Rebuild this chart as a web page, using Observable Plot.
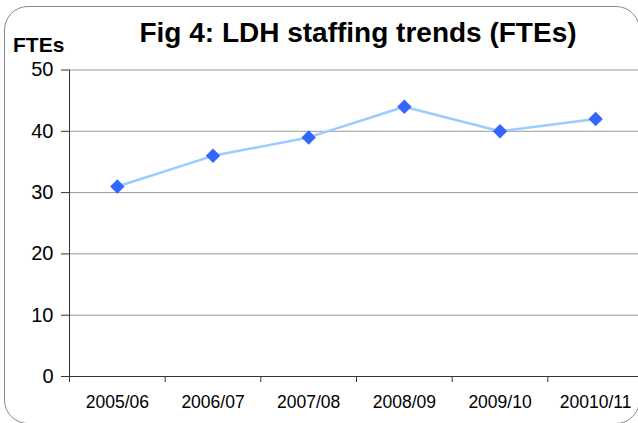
<!DOCTYPE html>
<html>
<head>
<meta charset="utf-8">
<script src="https://cdn.jsdelivr.net/npm/d3@7"></script>
<script src="https://cdn.jsdelivr.net/npm/@observablehq/plot@0.6"></script>
<style>
  html, body { margin: 0; padding: 0; background: #fff; }
  #wrap { position: relative; width: 638px; height: 423px; overflow: hidden; font-family: "Liberation Sans", Arial, sans-serif; }
  #frame { position: absolute; left: 4px; top: 6px; width: 636px; height: 418px; border: 1.5px solid #8a8a8a; border-radius: 24px; box-sizing: border-box; }
  #title { position: absolute; left: 0; width: 716px; top: 17px; text-align: center; font-weight: bold; font-size: 28px; color: #000; white-space: nowrap; }
  #ylabel { position: absolute; left: 13px; top: 33px; font-weight: bold; font-size: 21px; color: #000; }
  #chart { position: absolute; left: 0; top: 0; }
</style>
</head>
<body>
<div id="wrap">
  <div id="frame"></div>
  <div id="chart"></div>
  <div id="title">Fig 4: LDH staffing trends (FTEs)</div>
  <div id="ylabel">FTEs</div>
</div>
<script>
const categories = ["2005/06", "2006/07", "2007/08", "2008/09", "2009/10", "20010/11"];
const ftes = [31, 36, 39, 44, 40, 42];
const yTicks = [0, 10, 20, 30, 40, 50];

const data = categories.map((c, i) => ({pos: i + 0.5, label: c, value: ftes[i]}));
const boundaries = d3.range(categories.length + 1);
const centers = categories.map((c, i) => i + 0.5);

const chart = Plot.plot({
  width: 638,
  height: 423,
  marginLeft: 69,
  marginRight: -5,
  marginTop: 69.5,
  marginBottom: 47,
  style: {fontFamily: "Liberation Sans, Arial, sans-serif", color: "#000", background: "transparent", overflow: "hidden"},
  x: {type: "linear", domain: [0, categories.length], axis: null},
  y: {type: "linear", domain: [0, 50], axis: null},
  marks: [
    Plot.ruleY(yTicks.filter(d => d > 0), {stroke: "#9a9a9a", strokeWidth: 1}),
    Plot.axisY(yTicks, {tickSize: 8, tickPadding: 8, fontSize: 20, stroke: "#333", strokeOpacity: 1, fill: "#000", label: null}),
    Plot.axisX(boundaries, {tickSize: 6, tickFormat: () => "", stroke: "#333", strokeOpacity: 1, label: null}),
    Plot.axisX(centers, {tickSize: 0, tickPadding: 19, fontSize: 17.5, fill: "#000", tickFormat: d => categories[Math.floor(d)], label: null}),
    Plot.ruleX([0], {y1: 0, y2: 50, stroke: "#333", strokeWidth: 1}),
    Plot.ruleY([0], {stroke: "#333", strokeWidth: 1}),
    Plot.line(data, {x: "pos", y: "value", stroke: "#99ccff", strokeWidth: 2.5}),
    Plot.dot(data, {x: "pos", y: "value", symbol: "diamond2", r: 6.5, fill: "#3366ff", stroke: "none"})
  ]
});
document.getElementById("chart").appendChild(chart);
</script>
</body>
</html>
